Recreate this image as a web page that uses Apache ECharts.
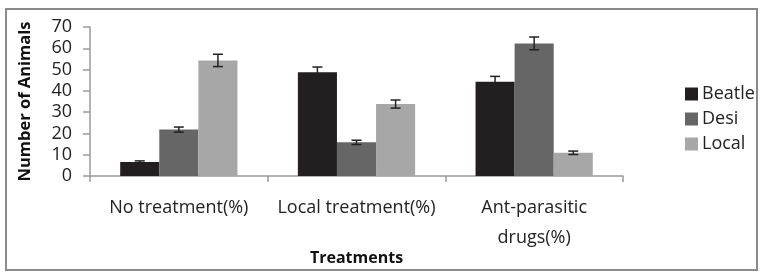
<!DOCTYPE html>
<html>
<head>
<meta charset="utf-8">
<script src="https://cdn.jsdelivr.net/npm/echarts@6/dist/echarts.min.js"></script>
<style>
  html, body { margin: 0; padding: 0; background: #fff; }
  #chart { width: 763px; height: 276px; }
</style>
</head>
<body>
<div id="chart"></div>
<script>
// data
const treatments = ['No treatment(%)', 'Local treatment(%)', 'Ant-parasitic\ndrugs(%)'];
const breeds = ['Beatle', 'Desi', 'Local'];
const beatle = [6.6, 48.7, 44.3];
const desi = [21.8, 15.8, 62.3];
const local = [54.3, 33.8, 10.9];
const beatleErr = [0.5, 2.5, 2.5];
const desiErr = [1.2, 1.0, 3.0];
const localErr = [2.9, 1.9, 0.8];
const yTicks = [0, 10, 20, 30, 40, 50, 60, 70];

const colors = ['#231f20', '#666666', '#a7a7a7'];
const FONT = '"Open Sans", sans-serif';
const catGap = 0.34;

const values = [beatle, desi, local];
const errs = [beatleErr, desiErr, localErr];
const errData = [];
values.forEach((vals, s) => {
    vals.forEach((v, c) => {
        errData.push([c, s, v - errs[s][c], v + errs[s][c]]);
    });
});

const chart = echarts.init(document.getElementById('chart'));

chart.setOption({
    animation: false,
    backgroundColor: '#fff',
    textStyle: { fontFamily: FONT },
    graphic: [{
        type: 'rect',
        shape: { x: 6, y: 9, width: 751, height: 261 },
        style: { fill: 'none', stroke: '#8a8a8a', lineWidth: 2 },
        z: -1
    }],
    legend: {
        data: breeds,
        orient: 'vertical',
        left: 685,
        top: 85,
        padding: 0,
        itemWidth: 13,
        itemHeight: 13,
        itemGap: 7,
        icon: 'rect',
        textStyle: { fontFamily: FONT, fontSize: 18, color: '#222', padding: [0, 0, 0, -1] }
    },
    grid: { left: 90, right: 140, top: 27, bottom: 100, outerBoundsMode: 'none' },
    xAxis: {
        type: 'category',
        data: treatments,
        name: 'Treatments',
        nameLocation: 'middle',
        nameGap: 74,
        nameMoveOverlap: false,
        nameTextStyle: { fontFamily: FONT, fontWeight: 'bold', fontSize: 16, color: '#111' },
        axisLine: { lineStyle: { color: '#9a9a9a', width: 1.5 } },
        axisTick: { show: true, length: 6, lineStyle: { color: '#9a9a9a', width: 1.5 } },
        axisLabel: { fontFamily: FONT, fontSize: 18, color: '#222', margin: 17, lineHeight: 30, interval: 0 }
    },
    yAxis: {
        type: 'value',
        min: yTicks[0],
        max: yTicks[yTicks.length - 1],
        interval: 10,
        name: 'Number of Animals',
        nameLocation: 'middle',
        nameGap: 56,
        nameRotate: 90,
        nameMoveOverlap: false,
        nameTextStyle: { fontFamily: FONT, fontWeight: 'bold', fontSize: 16.5, color: '#111' },
        axisLine: { show: true, lineStyle: { color: '#9a9a9a', width: 1.5 } },
        axisTick: { show: true, length: 7, lineStyle: { color: '#9a9a9a', width: 1.5 } },
        axisLabel: { fontFamily: FONT, fontSize: 18, color: '#222', margin: 18 },
        splitLine: { show: false }
    },
    series: [
        ...breeds.map((name, i) => ({
            name: name,
            type: 'bar',
            data: values[i],
            barGap: '0%',
            barCategoryGap: (catGap * 100) + '%',
            itemStyle: { color: colors[i] }
        })),
        {
            type: 'custom',
            name: 'err',
            data: errData,
            z: 10,
            renderItem: function (params, api) {
                const c = api.value(0), s = api.value(1);
                const lo = api.coord([c, api.value(2)]);
                const hi = api.coord([c, api.value(3)]);
                const catW = api.size([1, 0])[0];
                const bw = catW * (1 - catGap) / 3;
                const x = lo[0] + (s - 1) * bw;
                const cap = 5;
                const st = { stroke: '#222', lineWidth: 1.5 };
                return {
                    type: 'group',
                    children: [
                        { type: 'line', shape: { x1: x, y1: lo[1], x2: x, y2: hi[1] }, style: st },
                        { type: 'line', shape: { x1: x - cap, y1: lo[1], x2: x + cap, y2: lo[1] }, style: st },
                        { type: 'line', shape: { x1: x - cap, y1: hi[1], x2: x + cap, y2: hi[1] }, style: st }
                    ]
                };
            }
        }
    ]
});
</script>
</body>
</html>
